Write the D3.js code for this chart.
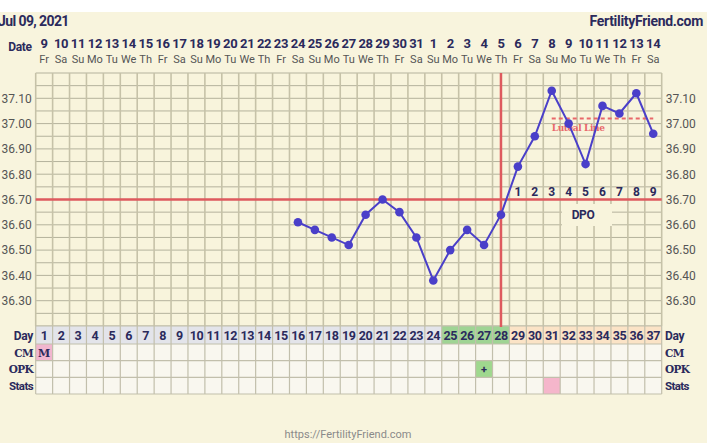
<!DOCTYPE html>
<html><head><meta charset="utf-8">
<script src="https://cdn.jsdelivr.net/npm/d3@7"></script>
<style>
html,body{margin:0;padding:0;background:#f8f4dd;}
svg{display:block;}
</style></head>
<body>
<svg id="c" width="707" height="443"></svg>
<script>
// ---------- data ----------
const dates = ["9","10","11","12","13","14","15","16","17","18","19","20","21","22","23","24","25","26","27","28","29","30","31","1","2","3","4","5","6","7","8","9","10","11","12","13","14"];
const weekdays = ["Fr","Sa","Su","Mo","Tu","We","Th","Fr","Sa","Su","Mo","Tu","We","Th","Fr","Sa","Su","Mo","Tu","We","Th","Fr","Sa","Su","Mo","Tu","We","Th","Fr","Sa","Su","Mo","Tu","We","Th","Fr","Sa"];
const cycleDays = d3.range(1, 38);
const temps = [null,null,null,null,null,null,null,null,null,null,null,null,null,null,null,
  36.61,36.58,36.55,36.52,36.64,36.70,36.65,36.55,36.38,36.50,36.58,36.52,36.64,
  36.83,36.95,37.13,37.00,36.84,37.07,37.04,37.12,36.96];
const tempTicks = [36.30,36.40,36.50,36.60,36.70,36.80,36.90,37.00,37.10];
const coverline = 36.70;
const ovulationDay = 28;
const lutealLine = {from:31, to:37, value:37.02};
const dpoLabels = ["1","2","3","4","5","6","7","8","9"];
const dayPhase = cycleDays.map(d => d <= 24 ? "pre" : (d <= 28 ? "fert" : "post"));
const cmMarks = {1:"M"};
const opkMarks = {27:"+"};
const statsMarks = [31];
const rowLabels = ["Day","CM","OPK","Stats"];

(function(){
// ---------- layout ----------
const svg = d3.select("#c");
const W = 707, H = 443;
const pL = 35.7, pR = 661.7, pT = 73, pB = 326;
const navy = "#2b2a5c";
const x = d3.scaleBand().domain(cycleDays).range([pL, pR]).paddingInner(0).paddingOuter(0);
const cx = d => x(d) + x.bandwidth()/2;
const y = d3.scaleLinear().domain([36.20, 37.20]).range([pB, pT]);

svg.append("rect").attr("x",0).attr("y",0).attr("width",W).attr("height",H).attr("fill","#f8f4dd");
svg.append("rect").attr("x",0).attr("y",0).attr("width",W).attr("height",12).attr("fill","#ffffff");

// header
svg.append("text").attr("x",-2).attr("y",26).attr("font-family","Roboto").attr("font-weight","bold")
  .attr("font-size",14).attr("fill",navy).attr("letter-spacing","-0.6").text("Jul 09, 2021");
svg.append("text").attr("x",703).attr("y",26).attr("text-anchor","end").attr("font-family","Roboto").attr("font-weight","bold")
  .attr("font-size",14).attr("fill",navy).attr("letter-spacing","-0.3").text("FertilityFriend.com");

svg.append("text").attr("x",20).attr("y",51).attr("text-anchor","middle").attr("font-family","Roboto").attr("font-weight","bold")
  .attr("font-size",12).attr("fill",navy).attr("letter-spacing","-0.3").text("Date");
svg.selectAll("text.date").data(cycleDays).enter().append("text").attr("class","date")
  .attr("x",d=>cx(d)).attr("y",47.5).attr("text-anchor","middle").attr("font-family","Roboto").attr("font-weight","bold")
  .attr("font-size",13).attr("fill",navy).attr("letter-spacing","-0.3").text((d,i)=>dates[i]);
svg.selectAll("text.wd").data(cycleDays).enter().append("text").attr("class","wd")
  .attr("x",d=>cx(d)).attr("y",63).attr("text-anchor","middle").attr("font-family","Roboto")
  .attr("font-size",11).attr("fill","#555").text((d,i)=>weekdays[i]);

// plot background
svg.append("rect").attr("x",pL).attr("y",pT).attr("width",pR-pL).attr("height",pB-pT).attr("fill","#f8f4dc");

// horizontal grid every 0.05
const hLines = d3.range(0, 21).map(i => +(36.20 + i*0.05).toFixed(2));
svg.append("g").selectAll("line").data(hLines).enter().append("line")
  .attr("x1",pL).attr("x2",pR).attr("y1",d=>y(d)).attr("y2",d=>y(d))
  .attr("stroke","#b4b29c").attr("stroke-width",1);
// vertical grid
svg.append("g").selectAll("line").data(cycleDays.concat([38])).enter().append("line")
  .attr("x1",d=> d===38 ? pR : x(d)).attr("x2",d=> d===38 ? pR : x(d))
  .attr("y1",pT).attr("y2",pB)
  .attr("stroke","#c6c2a8").attr("stroke-width",1.6);

// axes labels
const yl = d3.axisLeft(y).tickValues(tempTicks).tickFormat(d3.format(".2f")).tickSize(0).tickPadding(4);
const gl = svg.append("g").attr("transform",`translate(${pL},0)`).call(yl);
const yr = d3.axisRight(y).tickValues(tempTicks).tickFormat(d3.format(".2f")).tickSize(0).tickPadding(4);
const gr = svg.append("g").attr("transform",`translate(${pR},0)`).call(yr);
[gl,gr].forEach(g=>{
  g.select(".domain").remove();
  g.selectAll("text").attr("font-family","Roboto").attr("font-size",12).attr("fill","#555");
});

// coverline
svg.append("line").attr("x1",pL).attr("x2",pR).attr("y1",y(coverline)).attr("y2",y(coverline))
  .attr("stroke","#de5a5e").attr("stroke-width",2.5);

// DPO label box
svg.append("rect").attr("x",562).attr("y",204).attr("width",50).attr("height",22).attr("fill","#f8f4dc");
svg.append("text").attr("x",583).attr("y",219).attr("text-anchor","middle").attr("font-family","Roboto").attr("font-weight","bold")
  .attr("font-size",12).attr("fill",navy).attr("letter-spacing","-0.4").text("DPO");
svg.selectAll("text.dpo").data(dpoLabels).enter().append("text").attr("class","dpo")
  .attr("x",(d,i)=>cx(ovulationDay+1+i)).attr("y",196).attr("text-anchor","middle").attr("font-family","Roboto").attr("font-weight","bold")
  .attr("font-size",12).attr("fill",navy).text(d=>d);

// luteal line
svg.append("line").attr("x1",cx(lutealLine.from)).attr("x2",cx(lutealLine.to))
  .attr("y1",y(lutealLine.value)).attr("y2",y(lutealLine.value))
  .attr("stroke","#e8686a").attr("stroke-width",2).attr("stroke-dasharray","4,3");
svg.append("text").attr("x",cx(lutealLine.from)).attr("y",y(lutealLine.value)+12).attr("font-family","DejaVu Serif")
  .attr("font-weight","bold").attr("font-size",9).attr("fill","#e8686a").attr("letter-spacing","-0.4").text("Luteal Line");

// table
const rowsY = [326, 344, 360.7, 377.3, 394];
const phaseFill = {pre:"#e3e4ea", fert:"#9fd494", post:"#fbe3c6"};
const tg = svg.append("g");
cycleDays.forEach((d,i)=>{
  tg.append("rect").attr("x",x(d)).attr("y",rowsY[0]).attr("width",x.bandwidth()).attr("height",rowsY[1]-rowsY[0])
    .attr("fill",phaseFill[dayPhase[i]]);
  for(let r=1;r<4;r++){
    let fill = "#f9f7ef";
    if(r===1 && cmMarks[d]) fill="#f1b6cf";
    if(r===2 && opkMarks[d]) fill="#9fd88e";
    if(r===3 && statsMarks.includes(d)) fill="#f5b6cb";
    tg.append("rect").attr("x",x(d)).attr("y",rowsY[r]).attr("width",x.bandwidth()).attr("height",rowsY[r+1]-rowsY[r]).attr("fill",fill);
  }
});
rowsY.forEach(v=>tg.append("line").attr("x1",pL).attr("x2",pR).attr("y1",v).attr("y2",v).attr("stroke","#c2bfac").attr("stroke-width",1.2));
cycleDays.concat([38]).forEach(d=>{
  const xx = d===38 ? pR : x(d);
  tg.append("line").attr("x1",xx).attr("x2",xx).attr("y1",rowsY[0]).attr("y2",rowsY[4]).attr("stroke","#c2bfac").attr("stroke-width",1.2);
});
tg.selectAll("text.day").data(cycleDays).enter().append("text").attr("class","day")
  .attr("x",d=>cx(d)).attr("y",340).attr("text-anchor","middle").attr("font-family","Roboto").attr("font-weight","bold")
  .attr("font-size",12.5).attr("fill",navy).attr("letter-spacing","-0.4").text(d=>d);
Object.keys(cmMarks).forEach(d=>tg.append("text").attr("x",cx(+d)).attr("y",357).attr("text-anchor","middle")
  .attr("font-family","DejaVu Serif").attr("font-weight","bold").attr("font-size",11).attr("fill",navy).text(cmMarks[d]));
Object.keys(opkMarks).forEach(d=>tg.append("text").attr("x",cx(+d)).attr("y",373).attr("text-anchor","middle")
  .attr("font-family","Roboto").attr("font-weight","bold").attr("font-size",11).attr("fill",navy).text(opkMarks[d]));

// row labels
const labelFonts = ["Roboto","DejaVu Serif","DejaVu Serif","Roboto"];
const labelSizes = [12,10.5,10.5,11.5];
const labelY = [340, 357, 373, 390];
rowLabels.forEach((t,i)=>{
  svg.append("text").attr("x",33).attr("y",labelY[i]).attr("text-anchor","end").attr("font-family",labelFonts[i])
    .attr("font-weight","bold").attr("font-size",labelSizes[i]).attr("fill",navy).attr("letter-spacing",i===0?"-0.3":"-0.6").text(t);
  svg.append("text").attr("x",665).attr("y",labelY[i]).attr("font-family",labelFonts[i])
    .attr("font-weight","bold").attr("font-size",labelSizes[i]).attr("fill",navy).attr("letter-spacing",i===0?"-0.3":"-0.6").text(t);
});

// ovulation vertical line
svg.append("line").attr("x1",cx(ovulationDay)).attr("x2",cx(ovulationDay)).attr("y1",pT).attr("y2",rowsY[0]+1)
  .attr("stroke","#de5a5e").attr("stroke-width",2.5);

// temperature line
const pts = cycleDays.map((d,i)=>({d, t:temps[i]})).filter(p=>p.t!==null);
svg.append("path").datum(pts).attr("fill","none").attr("stroke","#4a3fc9").attr("stroke-width",2)
  .attr("d", d3.line().x(p=>cx(p.d)).y(p=>y(p.t)));
svg.selectAll("circle.pt").data(pts).enter().append("circle").attr("class","pt")
  .attr("cx",p=>cx(p.d)).attr("cy",p=>y(p.t)).attr("r",4.3).attr("fill","#4a3fc9");

// footer
svg.append("text").attr("x",348).attr("y",438).attr("text-anchor","middle").attr("font-family","Roboto")
  .attr("font-size",11).attr("fill","#8a8a8a").text("https://FertilityFriend.com");
})();
</script>
</body></html>
